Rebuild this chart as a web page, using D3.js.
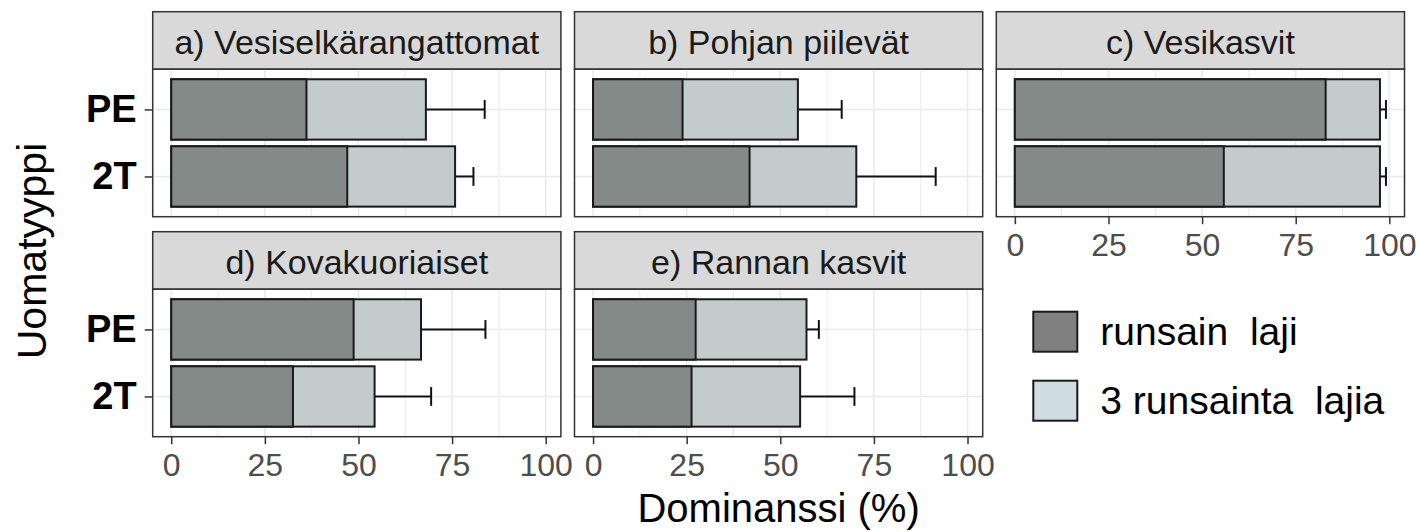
<!DOCTYPE html>
<html>
<head>
<meta charset="utf-8">
<script src="https://cdn.jsdelivr.net/npm/d3@7"></script>
<style>
  body { margin: 0; background: #fff; }
  svg { display: block; font-family: "Liberation Sans", Arial, sans-serif; }
</style>
</head>
<body>
<svg></svg>
<script>
// data
let panels = ['a) Vesiselkärangattomat', 'b) Pohjan piilevät', 'c) Vesikasvit', 'd) Kovakuoriaiset', 'e) Rannan kasvit'];
let types = ['PE', '2T'];
// runsain laji (most abundant species), per panel
let top1PE = [36.1, 23.9, 83.0, 48.7, 27.4];
let top12T = [47.0, 41.8, 55.8, 32.5, 26.3];
// 3 runsainta lajia (three most abundant), per panel
let top3PE = [68.0, 54.7, 97.5, 66.7, 57.0];
let top32T = [75.8, 70.3, 97.5, 54.3, 55.3];
// upper end of error bar
let errPE = [83.7, 66.4, 99.1, 83.9, 60.3];
let err2T = [80.7, 91.5, 99.1, 69.4, 69.8];
let xTicks = [0, 25, 50, 75, 100];
let legendLabels = ['runsain  laji', '3 runsainta  lajia'];

let width = 1417;
let height = 532;

let left = 152.7;
let panelW = 408.2;
let gapX = 13.6;
let rowTop = [11.7, 231.7];
let stripH = 57.5;
let plotH = 147.5;

let svg = d3.select('svg').attr('width', width).attr('height', height);

let rows = [];
panels.forEach((p, i) => {
    rows.push({panel: i, type: 'PE', top1: top1PE[i], top3: top3PE[i], err: errPE[i]});
    rows.push({panel: i, type: '2T', top1: top12T[i], top3: top32T[i], err: err2T[i]});
});

/* shared scales, ggplot style 5% expansion */
let maxV = d3.max(rows, d => d.err);
let x = d3.scaleLinear()
    .domain([-0.05 * maxV, maxV * 1.05])
    .range([0, panelW]);
let y = d3.scalePoint()
    .domain(types)
    .range([0, plotH])
    .padding(0.6);
let bandH = y.step() * 0.9;

let drawPanel = (i) => {
    let col = i % 3;
    let row = Math.floor(i / 3);
    let px = left + col * (panelW + gapX);
    let py = rowTop[row];
    let g = svg.append('g').attr('transform', 'translate(' + px + ',' + py + ')');

    // strip
    g.append('rect')
        .attr('width', panelW).attr('height', stripH)
        .attr('fill', '#d9d9d9').attr('stroke', '#333').attr('stroke-width', 1.5);
    g.append('text')
        .attr('x', panelW / 2).attr('y', 42.5)
        .attr('text-anchor', 'middle')
        .attr('font-size', 34).attr('fill', '#1a1a1a')
        .text(panels[i]);

    let p = g.append('g').attr('transform', 'translate(0,' + stripH + ')');
    p.append('rect').attr('width', panelW).attr('height', plotH).attr('fill', '#fff');

    // grid
    let minor = [12.5, 37.5, 62.5, 87.5];
    p.selectAll('.gmin').data(minor).enter().append('line')
        .attr('x1', d => x(d)).attr('x2', d => x(d))
        .attr('y1', 0).attr('y2', plotH)
        .attr('stroke', '#ebebeb').attr('stroke-width', 1);
    p.selectAll('.gmaj').data(xTicks).enter().append('line')
        .attr('x1', d => x(d)).attr('x2', d => x(d))
        .attr('y1', 0).attr('y2', plotH)
        .attr('stroke', '#ebebeb').attr('stroke-width', 1.6);
    p.selectAll('.gy').data(types).enter().append('line')
        .attr('x1', 0).attr('x2', panelW)
        .attr('y1', d => y(d)).attr('y2', d => y(d))
        .attr('stroke', '#ebebeb').attr('stroke-width', 1.6);

    let data = rows.filter(r => r.panel === i);

    // error bars (right half only, left half sits under the bar)
    p.selectAll('.eb').data(data).enter().append('line')
        .attr('x1', d => x(d.top3)).attr('x2', d => x(d.err))
        .attr('y1', d => y(d.type)).attr('y2', d => y(d.type))
        .attr('stroke', '#111').attr('stroke-width', 2);
    p.selectAll('.ec').data(data).enter().append('line')
        .attr('x1', d => x(d.err)).attr('x2', d => x(d.err))
        .attr('y1', d => y(d.type) - y.step() * 0.14)
        .attr('y2', d => y(d.type) + y.step() * 0.14)
        .attr('stroke', '#111').attr('stroke-width', 2);

    // bars: three most abundant, then the most abundant on top
    p.selectAll('.b3').data(data).enter().append('rect')
        .attr('x', x(0)).attr('y', d => y(d.type) - bandH / 2)
        .attr('width', d => x(d.top3) - x(0)).attr('height', bandH)
        .attr('fill', '#c2cccc').attr('stroke', '#1a1a1a').attr('stroke-width', 2);
    p.selectAll('.b1').data(data).enter().append('rect')
        .attr('x', x(0)).attr('y', d => y(d.type) - bandH / 2)
        .attr('width', d => x(d.top1) - x(0)).attr('height', bandH)
        .attr('fill', '#848a88').attr('stroke', '#1a1a1a').attr('stroke-width', 2);

    p.append('rect').attr('width', panelW).attr('height', plotH)
        .attr('fill', 'none').attr('stroke', '#333').attr('stroke-width', 1.5);

    // axes
    if (col === 0) {
        let ya = p.append('g').call(d3.axisLeft(y).tickSize(8).tickPadding(8));
        ya.select('.domain').remove();
        ya.selectAll('line').attr('stroke', '#333').attr('stroke-width', 1.5);
        ya.selectAll('text').attr('font-size', 38).attr('font-weight', 'bold')
            .attr('fill', '#000').attr('font-family', '"Liberation Sans", Arial, sans-serif');
    }
    if (row === 1 || i === 2) {
        let xa = p.append('g').attr('transform', 'translate(0,' + plotH + ')')
            .call(d3.axisBottom(x).tickValues(xTicks).tickSize(7.5).tickPadding(9.5));
        xa.select('.domain').remove();
        xa.selectAll('line').attr('stroke', '#333').attr('stroke-width', 1.5);
        xa.selectAll('text').attr('font-size', 32).attr('fill', '#4d4d4d')
            .attr('font-family', '"Liberation Sans", Arial, sans-serif');
    }
};

panels.forEach((p, i) => drawPanel(i));

// axis titles
svg.append('text')
    .attr('x', left + (3 * panelW + 2 * gapX) / 2).attr('y', 522)
    .attr('text-anchor', 'middle').attr('font-size', 40).attr('fill', '#000')
    .text('Dominanssi (%)');
svg.append('text')
    .attr('transform', 'translate(46,251) rotate(-90)')
    .attr('text-anchor', 'middle').attr('font-size', 41).attr('fill', '#000')
    .text('Uomatyyppi');

// legend
let legendFill = ['#808080', '#cfdde2'];
let lg = svg.append('g').attr('transform', 'translate(1033.3,311.7)');
legendLabels.forEach((t, i) => {
    lg.append('rect')
        .attr('x', 0).attr('y', i * 69)
        .attr('width', 44).attr('height', 40)
        .attr('fill', legendFill[i]).attr('stroke', '#1a1a1a').attr('stroke-width', 2);
    lg.append('text')
        .attr('x', 67).attr('y', i * 69 + 33.5)
        .attr('font-size', 39).attr('fill', '#000')
        .style('white-space', 'pre')
        .text(t);
});
</script>
</body>
</html>
